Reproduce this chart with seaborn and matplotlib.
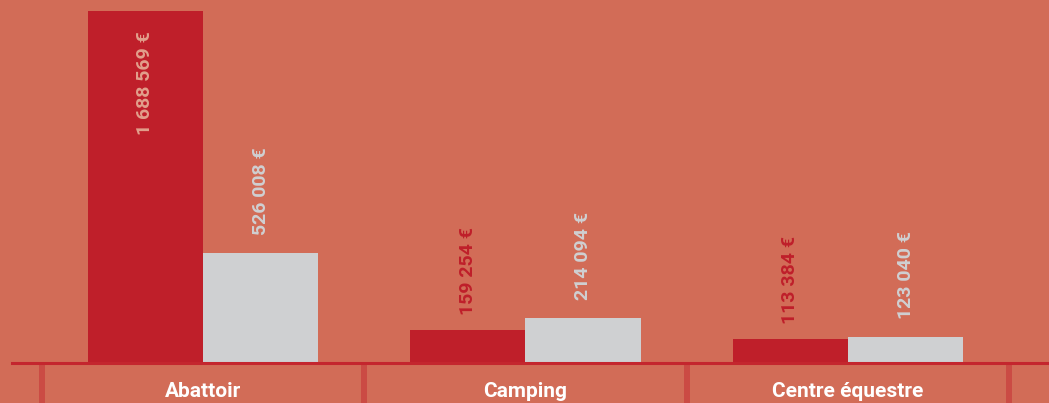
import matplotlib
matplotlib.use("Agg")
import matplotlib.pyplot as plt
import seaborn as sns
import pandas as pd

categories = ["Abattoir", "Camping", "Centre équestre"]
series_names = ["Série A", "Série B"]
values_a = [1688569, 159254, 113384]
values_b = [526008, 214094, 123040]
labels_a = ["1 688 569 €", "159 254 €", "113 384 €"]
labels_b = ["526 008 €", "214 094 €", "123 040 €"]

BG = "#D26C57"
RED = "#BF1F2A"
GRAY = "#CFD0D2"
LINE = "#C4262E"
TICK = "#CB4B44"
INSIDE = "#E2A08C"

df = pd.DataFrame({
    "cat": categories * 2,
    "serie": [series_names[0]] * 3 + [series_names[1]] * 3,
    "val": values_a + values_b,
})

sns.set_theme(style="white")
plt.rcParams["font.family"] = ["Roboto", "DejaVu Sans"]

fig = plt.figure(figsize=(10.49, 4.03), dpi=100, facecolor=BG)
ax = fig.add_axes([0, 40 / 403, 1, 363 / 403])
ax.set_facecolor(BG)

sns.barplot(data=df, x="cat", y="val", hue="serie", order=categories,
            hue_order=series_names, palette=[RED, GRAY], width=0.715,
            saturation=1, linewidth=0, legend=False, ax=ax)

ax.set_ylim(0, 1741411)
ax.set_xlim(-0.629, 2.623)

for s in ["top", "left", "right"]:
    ax.spines[s].set_visible(False)
ax.spines["bottom"].set_color(LINE)
ax.spines["bottom"].set_linewidth(2.2)
ax.spines["bottom"].set_bounds(-0.592, 2.623)
ax.spines["bottom"].set_zorder(5)

ax.set_yticks([])
ax.set_xticks([-0.5, 0.5, 1.5, 2.5])
ax.set_xticklabels([])
ax.tick_params(axis="x", which="major", direction="out", length=29, width=4.3,
               color=TICK, bottom=True)
ax.set_xticks([0, 1, 2], minor=True)
ax.set_xticklabels(categories, minor=True, fontsize=15, fontweight="bold", color="white")
ax.tick_params(axis="x", which="minor", length=0, pad=14)
ax.set_xlabel("")
ax.set_ylabel("")

cont_a, cont_b = ax.containers[0], ax.containers[1]
ymax = 1741411
px = ymax / 363.0
FS = 14
for i, (p, lab) in enumerate(zip(cont_a.patches, labels_a)):
    xc = p.get_x() + p.get_width() / 2
    h = p.get_height()
    if i == 0:
        ax.text(xc, h - 20 * px, lab, rotation=90, ha="center", va="top",
                fontsize=FS, fontweight="bold", color=INSIDE)
    else:
        ax.text(xc, h + 15 * px, lab, rotation=90, ha="center", va="bottom",
                fontsize=FS, fontweight="bold", color=RED)
for p, lab in zip(cont_b.patches, labels_b):
    xc = p.get_x() + p.get_width() / 2
    h = p.get_height()
    ax.text(xc, h + 18 * px, lab, rotation=90, ha="center", va="bottom",
            fontsize=FS, fontweight="bold", color=GRAY)

fig.savefig("out.png", dpi=100, facecolor=BG)
